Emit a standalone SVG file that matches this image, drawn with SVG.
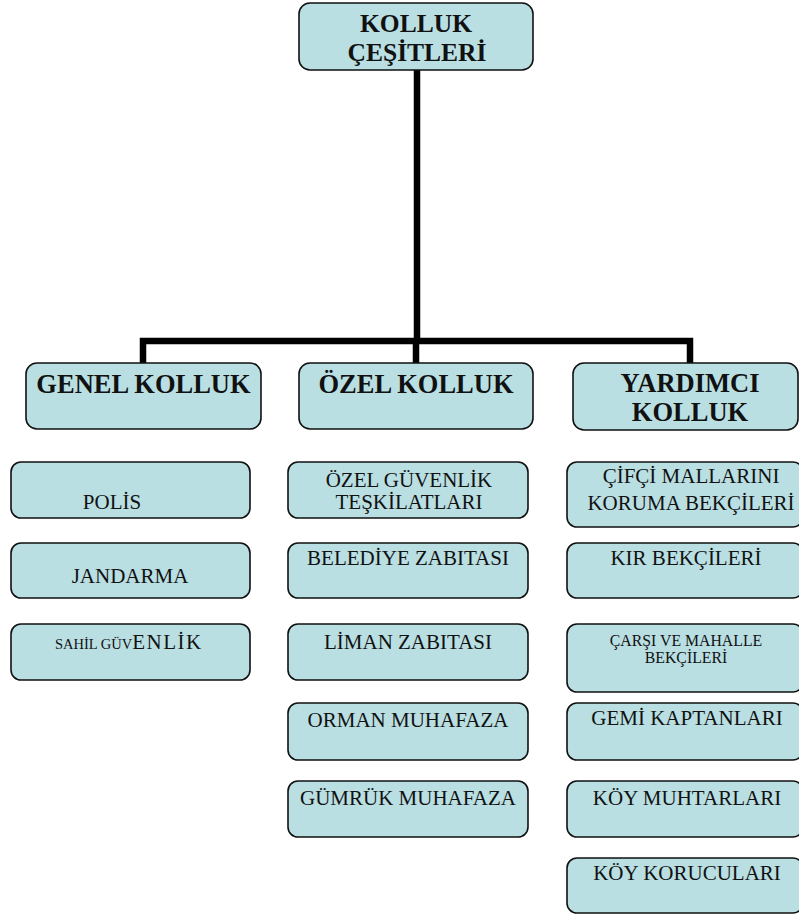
<svg xmlns="http://www.w3.org/2000/svg" width="799" height="916" viewBox="0 0 799 916">
<style>
.box{fill:#b9dfe3;stroke:#111;stroke-width:1.6}
.h{font-family:'Liberation Serif',serif;font-weight:bold;font-size:25.5px;fill:#111;text-anchor:middle}
.h2{font-family:'Liberation Serif',serif;font-weight:bold;font-size:26.5px;fill:#111;text-anchor:middle}
.t{font-family:'Liberation Serif',serif;font-size:21px;fill:#111;text-anchor:middle}
.s{font-family:'Liberation Serif',serif;font-size:15.8px;fill:#111;text-anchor:middle}
.c{fill:none;stroke:#000;stroke-width:6.5}
</style>
<rect width="799" height="916" fill="#fff"/>
<g id="connectors">
<path class="c" d="M417 70 V341"/>
<path class="c" d="M143 363 V341 H690 V363"/>
<path class="c" d="M416 341 V363"/>
</g>
<g id="kolluk-cesitleri"><rect class="box" x="299" y="3" width="234" height="67" rx="11"/><text class="h" x="416" y="32">KOLLUK</text><text class="h" x="417" y="61">ÇEŞİTLERİ</text></g>
<g id="genel-kolluk"><rect class="box" x="26" y="363" width="235" height="66" rx="11"/><text class="h2" x="143.5" y="393">GENEL KOLLUK</text></g>
<g id="ozel-kolluk"><rect class="box" x="299" y="363" width="234" height="66" rx="11"/><text class="h2" x="416" y="393">ÖZEL KOLLUK</text></g>
<g id="yardimci-kolluk"><rect class="box" x="573" y="363" width="225" height="67" rx="11"/><text class="h2" x="690" y="392">YARDIMCI</text><text class="h2" x="690" y="421">KOLLUK</text></g>

<g id="polis"><rect class="box" x="11" y="462" width="239" height="56" rx="10"/><text class="t" x="112" y="509">POLİS</text></g>
<g id="jandarma"><rect class="box" x="11" y="543" width="239" height="55" rx="10"/><text class="t" x="130" y="583">JANDARMA</text></g>
<g id="sahil-guvenlik"><rect class="box" x="11" y="624" width="239" height="56" rx="10"/><text x="55" y="649" style="font-family:'Liberation Serif',serif;fill:#111"><tspan font-size="14.5">SAHİL GÜV</tspan><tspan font-size="21" letter-spacing="1.5">ENLİK</tspan></text></g>

<g id="ozel-guvenlik"><rect class="box" x="288" y="462" width="240" height="56" rx="10"/><text class="t" x="409" y="487">ÖZEL GÜVENLİK</text><text class="t" x="409" y="509">TEŞKİLATLARI</text></g>
<g id="belediye-zabitasi"><rect class="box" x="288" y="543" width="240" height="55" rx="10"/><text class="t" x="408" y="565">BELEDİYE ZABITASI</text></g>
<g id="liman-zabitasi"><rect class="box" x="288" y="624" width="240" height="56" rx="10"/><text class="t" x="408" y="649">LİMAN ZABITASI</text></g>
<g id="orman-muhafaza"><rect class="box" x="288" y="703" width="240" height="57" rx="10"/><text class="t" x="408" y="727">ORMAN MUHAFAZA</text></g>
<g id="gumruk-muhafaza"><rect class="box" x="288" y="781" width="240" height="56" rx="10"/><text class="t" x="408" y="805">GÜMRÜK MUHAFAZA</text></g>

<g id="cifci"><rect class="box" x="567" y="462" width="236" height="65" rx="10"/><text class="t" x="691" y="483">ÇİFÇİ MALLARINI</text><text class="t" x="691" y="510">KORUMA BEKÇİLERİ</text></g>
<g id="kir-bekcileri"><rect class="box" x="567" y="543" width="236" height="55" rx="10"/><text class="t" x="686" y="565">KIR BEKÇİLERİ</text></g>
<g id="carsi-mahalle"><rect class="box" x="567" y="624" width="236" height="68" rx="10"/><text class="s" x="686" y="646">ÇARŞI VE MAHALLE</text><text class="s" x="686" y="663">BEKÇİLERİ</text></g>
<g id="gemi-kaptanlari"><rect class="box" x="567" y="703" width="236" height="57" rx="10"/><text class="t" x="687" y="725">GEMİ KAPTANLARI</text></g>
<g id="koy-muhtarlari"><rect class="box" x="567" y="781" width="236" height="56" rx="10"/><text class="t" x="687" y="805">KÖY MUHTARLARI</text></g>
<g id="koy-koruculari"><rect class="box" x="567" y="858" width="236" height="55" rx="10"/><text class="t" x="687" y="880">KÖY KORUCULARI</text></g>
</svg>
